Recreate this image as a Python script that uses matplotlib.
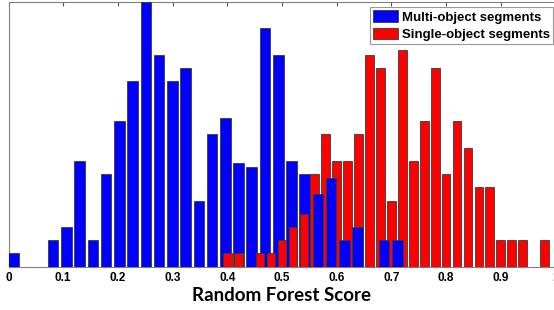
import numpy as np
import matplotlib
matplotlib.use("Agg")
import matplotlib.pyplot as plt

# histogram counts (30 bins per class)
multi_counts = [1, 0, 0, 2, 3, 8, 2, 7, 11, 14, 20, 16, 14, 15, 5,
                10, 11.2, 7.8, 7.5, 18, 16, 8, 7, 5.5, 6.7, 2, 3, 0, 2, 2]
single_counts = [1, 1, 0, 1, 1, 2, 3, 4, 7, 10, 8, 8, 10, 16, 15,
                 5, 16.4, 8, 11, 15, 7, 11, 9, 6, 6, 2, 2, 2, 0, 2]
multi_range = (-0.003, 0.723)
single_range = (0.390, 0.990)
labels = ["Multi-object segments", "Single-object segments"]
xticks = [0, 0.1, 0.2, 0.3, 0.4, 0.5, 0.6, 0.7, 0.8, 0.9, 1]


def bin_centers(rng, n):
    step = (rng[1] - rng[0]) / n
    return rng[0] + (np.arange(n) + 0.5) * step, step


fig = plt.figure(figsize=(5.54, 3.10), dpi=100)
ax = fig.add_axes([8.5 / 554, 43.3 / 310, 547 / 554, 264.7 / 310])

handles = []
for counts, rng, color, label in [(multi_counts, multi_range, "#0000ff", labels[0]),
                                  (single_counts, single_range, "#ff0000", labels[1])]:
    x, step = bin_centers(rng, len(counts))
    bars = ax.bar(x, counts, width=0.8 * step, color=color, edgecolor="#3a3a3a",
                  linewidth=0.6, label=label)
    # shorter bars sit in front, as in the original
    for p, h in zip(bars.patches, counts):
        p.set_zorder(3 + (25 - h) / 100)
    handles.append(bars)

ax.set_xlim(0, 1)
ax.set_ylim(0, 20)
ax.set_yticks([])
ax.set_xticks(xticks)
ax.set_xticklabels([f"{t:g}" for t in xticks], fontsize=8.5, fontweight="bold",
                   family="Liberation Sans")
ax.tick_params(axis="x", direction="in", length=3, top=True, pad=4, color="#555555")
for s in ax.spines.values():
    s.set_color("#808080")
    s.set_linewidth(0.8)

ax.set_xlabel("Random Forest Score", fontsize=13.5, fontweight="bold",
              family="Lato", labelpad=2)

leg = ax.legend(handles=handles, loc="upper right", bbox_to_anchor=(553 / 554, 1 - 7 / 310),
                bbox_transform=fig.transFigure, prop={"family": "Liberation Sans",
                                                      "weight": "bold", "size": 9.5},
                frameon=True, fancybox=False, handlelength=1.9, handleheight=1.0,
                handletextpad=0.25, labelspacing=0.3, borderpad=0.25, borderaxespad=0)
leg.get_frame().set_edgecolor("#808080")
leg.get_frame().set_linewidth(0.8)
leg.set_zorder(10)

fig.savefig("out.png", dpi=100)
